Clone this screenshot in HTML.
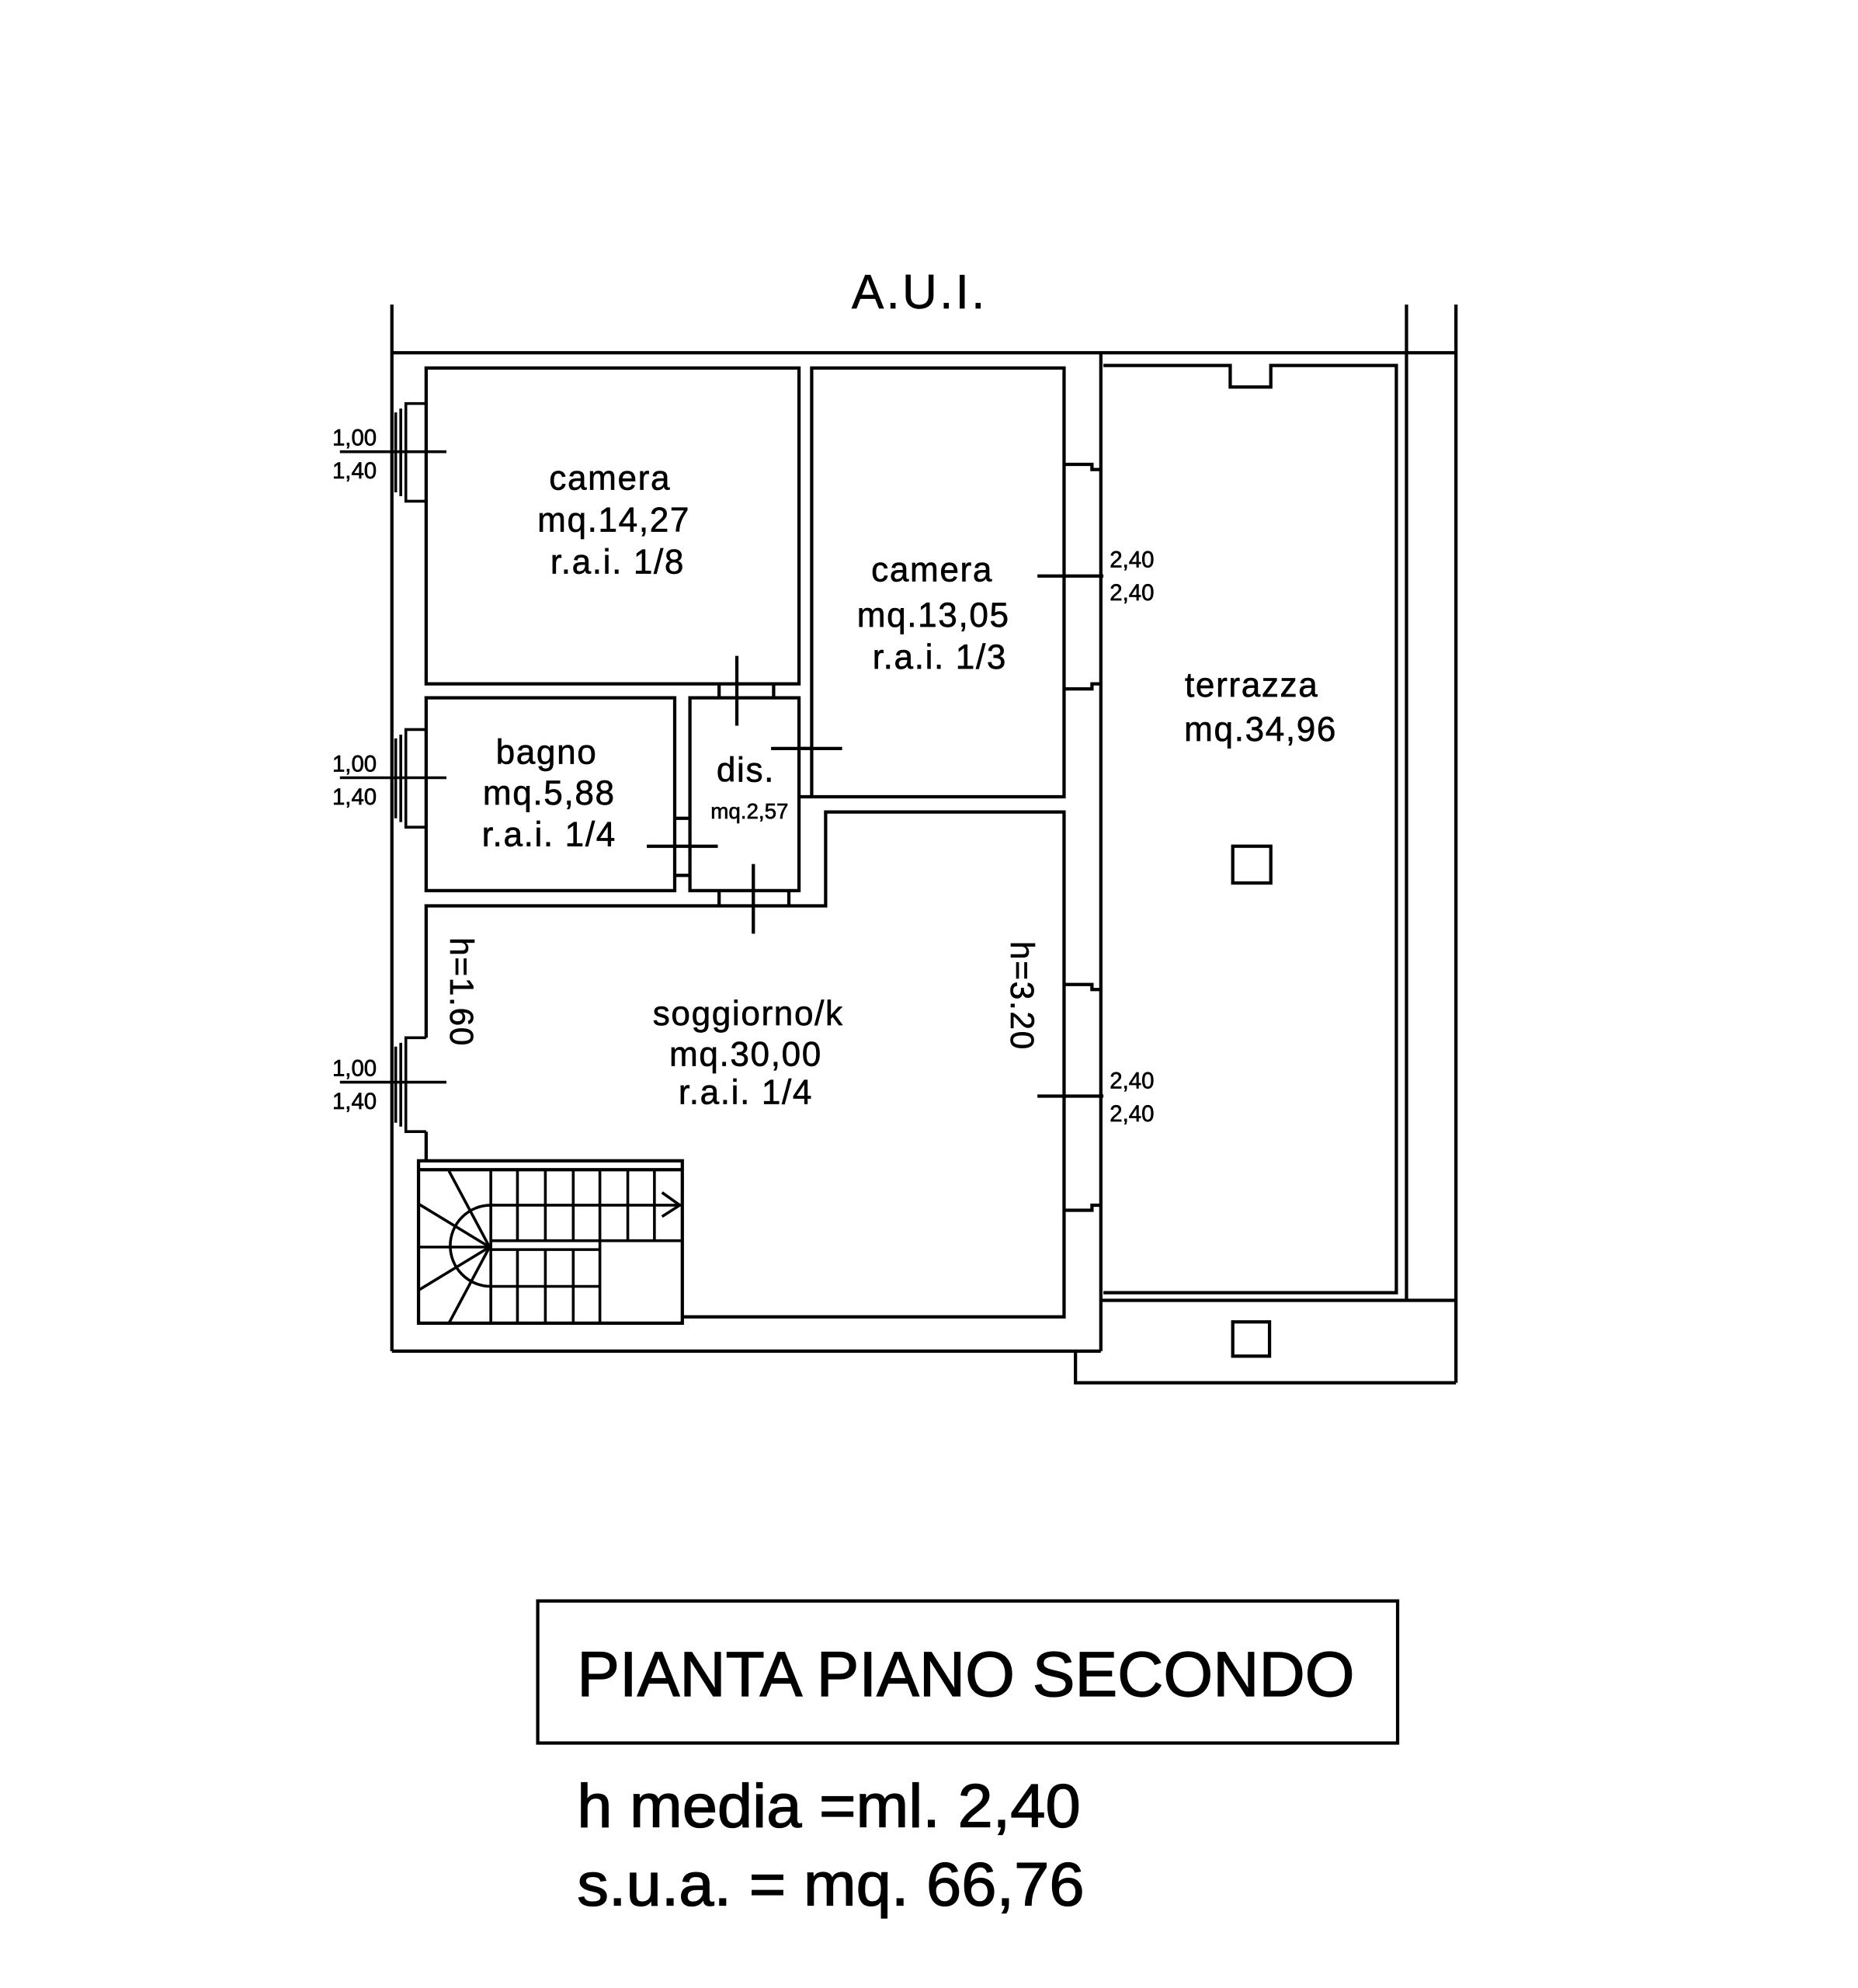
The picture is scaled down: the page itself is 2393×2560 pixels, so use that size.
<!DOCTYPE html>
<html><head><meta charset="utf-8"><style>
html,body{margin:0;padding:0;background:#fff;}
svg{display:block;}
text{font-family:"Liberation Sans",sans-serif;fill:#000;}
</style></head><body>
<svg width="2393" height="2560" viewBox="0 0 1465 1567" xmlns="http://www.w3.org/2000/svg">
<g fill="none" stroke="#000" stroke-width="2.6">
<line x1="309" y1="240" x2="309" y2="1065"/>
<line x1="1109" y1="240" x2="1109" y2="1025"/>
<line x1="1148" y1="240" x2="1148" y2="1090"/>
<line x1="309" y1="278" x2="1148" y2="278"/>
<line x1="309" y1="1065" x2="868" y2="1065"/>
<line x1="868" y1="278" x2="868" y2="1065"/>
<line x1="868" y1="1025" x2="1148" y2="1025"/>
<polyline points="848,1065 848,1090 1148,1090"/>
<polyline points="870,288 970,288 970,305 1002,305 1002,288 1101,288 1101,1019 870,1019"/>
<rect x="972" y="667" width="30" height="29"/>
<rect x="972" y="1042" width="29" height="27"/>
<rect x="336" y="290" width="294" height="249"/>
<rect x="640" y="290" width="199" height="338"/>
<rect x="336" y="550" width="196" height="152"/>
<rect x="544" y="550" width="86" height="152"/>
<polyline points="538,1038 839,1038 839,640 651,640 651,714 336,714 336,818"/>
<line x1="336" y1="892" x2="336" y2="915"/>
<polyline points="839,366 861,366 861,370 868,370"/>
<polyline points="839,543 861,543 861,539 868,539"/>
<polyline points="839,776 861,776 861,780 868,780"/>
<polyline points="839,954 861,954 861,950 868,950"/>
<line x1="567" y1="539" x2="567" y2="550"/><line x1="610" y1="539" x2="610" y2="550"/>
<line x1="630" y1="590" x2="640" y2="590"/><line x1="630" y1="628" x2="640" y2="628"/>
<line x1="532" y1="645" x2="544" y2="645"/><line x1="532" y1="690" x2="544" y2="690"/>
<line x1="567" y1="702" x2="567" y2="714"/><line x1="622" y1="702" x2="622" y2="714"/>
<line x1="581" y1="517" x2="581" y2="572"/>
<line x1="608" y1="590" x2="664" y2="590"/>
<line x1="510" y1="667" x2="566" y2="667"/>
<line x1="594" y1="681" x2="594" y2="736"/>
<line x1="818" y1="454" x2="870" y2="454"/>
<line x1="818" y1="864" x2="870" y2="864"/>
<g stroke-width="2.2">
<polyline points="336,318 320,318 320,395 336,395"/><line x1="316" y1="322" x2="316" y2="391"/><line x1="312" y1="325" x2="312" y2="388"/>
<line x1="268" y1="356" x2="352" y2="356"/>
<polyline points="336,575 320,575 320,652 336,652"/><line x1="316" y1="579" x2="316" y2="648"/><line x1="312" y1="582" x2="312" y2="645"/>
<line x1="268" y1="613" x2="352" y2="613"/>
<polyline points="336,818 320,818 320,892 336,892"/><line x1="316" y1="822" x2="316" y2="888"/><line x1="312" y1="825" x2="312" y2="885"/>
<line x1="268" y1="853" x2="352" y2="853"/>
</g>
<rect x="330" y="915" width="208" height="128"/>
<line x1="330" y1="922" x2="538" y2="922"/>
<g stroke-width="2.2">
<line x1="387" y1="922" x2="387" y2="1043"/>
<line x1="408" y1="922" x2="408" y2="978"/><line x1="430" y1="922" x2="430" y2="978"/><line x1="452" y1="922" x2="452" y2="978"/><line x1="473" y1="922" x2="473" y2="1043"/><line x1="495" y1="922" x2="495" y2="978"/><line x1="516" y1="922" x2="516" y2="978"/>
<line x1="408" y1="985" x2="408" y2="1043"/><line x1="430" y1="985" x2="430" y2="1043"/><line x1="452" y1="985" x2="452" y2="1043"/>
<line x1="387" y1="950" x2="538" y2="950"/>
<line x1="387" y1="978" x2="538" y2="978"/>
<line x1="387" y1="985" x2="473" y2="985"/>
<line x1="387" y1="1014" x2="473" y2="1014"/>
<polyline points="522,940 536,950 522,959"/>
<path d="M387,950 A32,32 0 0 0 387,1014"/>
<line x1="386" y1="983" x2="354" y2="923"/>
<line x1="386" y1="983" x2="330" y2="949"/>
<line x1="386" y1="983" x2="330" y2="983"/>
<line x1="386" y1="983" x2="330" y2="1017"/>
<line x1="386" y1="983" x2="354" y2="1043"/>
</g>
<rect x="424" y="1262" width="678" height="112"/>
</g>
<g font-size="27" text-anchor="middle" stroke="#000" stroke-width="0.4" letter-spacing="1">
<text x="725" y="243" font-size="38" letter-spacing="2">A.U.I.</text>
<text x="481" y="386">camera</text>
<text x="484" y="419">mq.14,27</text>
<text x="487" y="452">r.a.i.  1/8</text>
<text x="735" y="458">camera</text>
<text x="736" y="494">mq.13,05</text>
<text x="741" y="527">r.a.i.  1/3</text>
<text x="987" y="549">terrazza</text>
<text x="994" y="584">mq.34,96</text>
<text x="431" y="602">bagno</text>
<text x="433" y="634">mq.5,88</text>
<text x="433" y="667">r.a.i.  1/4</text>
<text x="588" y="616">dis.</text>
<text x="591" y="645" font-size="17" letter-spacing="0">mq.2,57</text>
<text x="590" y="808">soggiorno/k</text>
<text x="588" y="840">mq.30,00</text>
<text x="588" y="870">r.a.i.  1/4</text>
<text transform="translate(355,782) rotate(90)" font-size="26">h=1.60</text>
<text transform="translate(797,785) rotate(90)" font-size="26">h=3.20</text>
</g>
<g font-size="18" text-anchor="start" stroke="#000" stroke-width="0.4">
<text x="262" y="351">1,00</text><text x="262" y="377">1,40</text>
<text x="262" y="608">1,00</text><text x="262" y="634">1,40</text>
<text x="262" y="848">1,00</text><text x="262" y="874">1,40</text>
<text x="875" y="447">2,40</text><text x="875" y="473">2,40</text>
<text x="875" y="858">2,40</text><text x="875" y="884">2,40</text>
</g>
<g stroke="#000" stroke-width="0.8">
<text x="455" y="1337" font-size="50" textLength="613" lengthAdjust="spacingAndGlyphs">PIANTA PIANO SECONDO</text>
<text x="455" y="1440" font-size="48" textLength="397" lengthAdjust="spacingAndGlyphs">h media =ml. 2,40</text>
<text x="455" y="1502" font-size="48" textLength="400" lengthAdjust="spacingAndGlyphs">s.u.a. = mq. 66,76</text>
</g>
</svg>
</body></html>
